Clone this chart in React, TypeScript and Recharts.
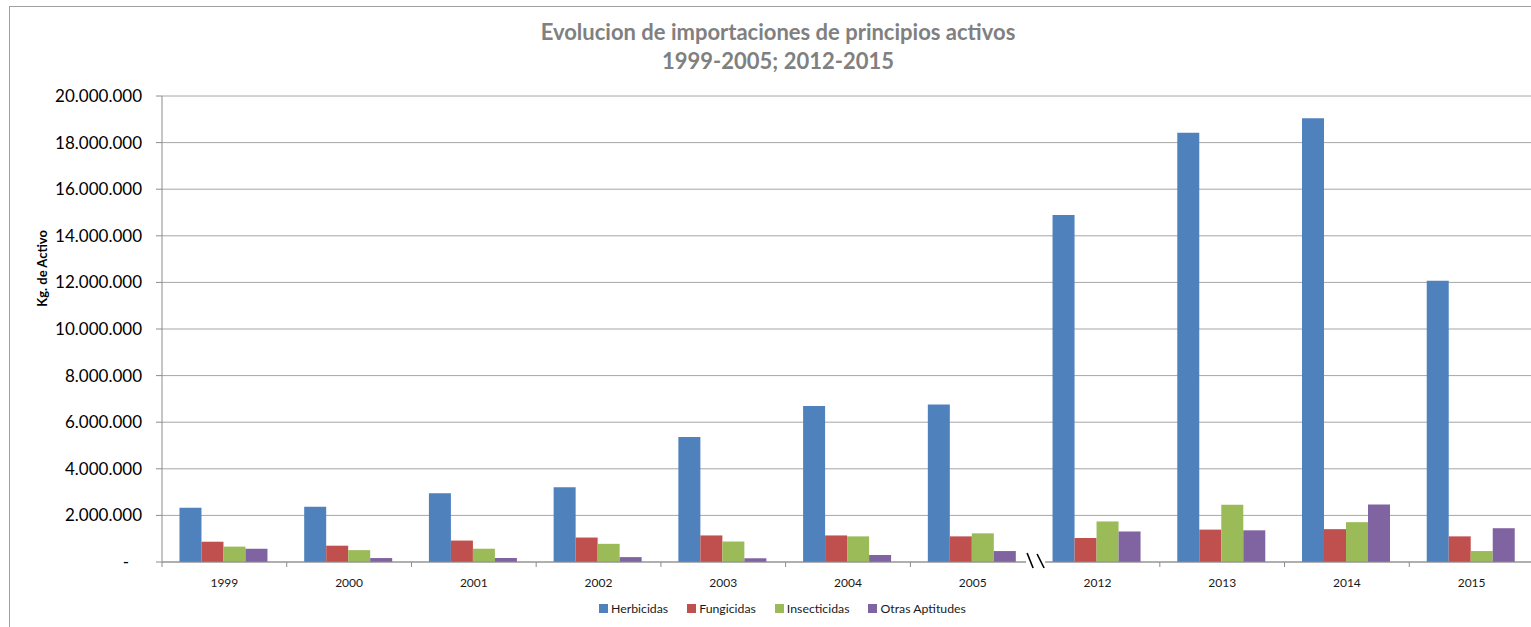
import React from 'react';
import { BarChart, Bar, XAxis, YAxis, CartesianGrid, Legend } from 'recharts';

const years = ['1999', '2000', '2001', '2002', '2003', '2004', '2005', '2012', '2013', '2014', '2015'];
const herbicidas = [2330000, 2370000, 2950000, 3210000, 5370000, 6700000, 6760000, 14890000, 18420000, 19040000, 12070000];
const fungicidas = [870000, 700000, 920000, 1050000, 1140000, 1140000, 1100000, 1030000, 1390000, 1410000, 1100000];
const insecticidas = [660000, 510000, 570000, 780000, 880000, 1100000, 1230000, 1740000, 2460000, 1710000, 470000];
const otras = [570000, 170000, 170000, 210000, 160000, 300000, 470000, 1310000, 1360000, 2470000, 1450000];
const yTicks = [0, 2000000, 4000000, 6000000, 8000000, 10000000, 12000000, 14000000, 16000000, 18000000, 20000000];

const series = [
  { key: 'herbicidas', name: 'Herbicidas', color: '#4f81bd' },
  { key: 'fungicidas', name: 'Fungicidas', color: '#c0504d' },
  { key: 'insecticidas', name: 'Insecticidas', color: '#9bbb59' },
  { key: 'otras', name: 'Otras Aptitudes', color: '#8064a2' },
];

const data = years.map((y, i) => ({
  year: y,
  herbicidas: herbicidas[i],
  fungicidas: fungicidas[i],
  insecticidas: insecticidas[i],
  otras: otras[i],
}));

const FONT = 'Lato, "Liberation Sans", sans-serif';
const AXIS = '#8c8c8c';

const fmt = (v: number) => (v === 0 ? '-\u00a0\u00a0\u00a0' : String(v).replace(/\B(?=(\d{3})+(?!\d))/g, '.'));

// break after 2005
const BREAK_INDEX = 7;

const XTick = (props: any) => {
  const { x, y, payload, index } = props;
  const half = payload.offset || 0;
  const axisY = y - 16;
  const left = x - half;
  return (
    <g>
      {index === BREAK_INDEX ? (
        <g>
          <rect x={left - 9} y={axisY - 2} width={19} height={4} fill='#fff' />
          <line x1={left - 8} y1={axisY - 9} x2={left - 2} y2={axisY + 6} stroke='#000' strokeWidth={1.6} />
          <line x1={left + 2} y1={axisY - 8} x2={left + 9} y2={axisY + 6} stroke='#000' strokeWidth={1.6} />
        </g>
      ) : (
        <line x1={left} y1={axisY} x2={left} y2={axisY + 5} stroke={AXIS} />
      )}
      {index === years.length - 1 && <line x1={x + half} y1={axisY} x2={x + half} y2={axisY + 5} stroke={AXIS} />}
      <text x={x} y={y} dy='0.71em' textAnchor='middle' fontSize={12} fontFamily={FONT} fill='#1a1a1a'>
        {payload.value}
      </text>
    </g>
  );
};

const LegendContent = () => (
  <div style={{ display: 'flex', paddingLeft: 599, height: 20, alignItems: 'center', fontFamily: FONT, fontSize: 12.3, color: '#1a1a1a' }}>
    {series.map((s) => (
      <div key={s.key} style={{ display: 'flex', alignItems: 'center', marginRight: 19 }}>
        <span style={{ display: 'inline-block', width: 9, height: 9, background: s.color, marginRight: 3 }} />
        <span>{s.name}</span>
      </div>
    ))}
  </div>
);

const YLabel = (props: any) => {
  const { viewBox } = props;
  const cx = 42;
  const cy = viewBox.y + viewBox.height * 0.37;
  return (
    <text x={cx} y={cy} transform={`rotate(-90 ${cx} ${cy})`} textAnchor='middle' dominantBaseline='central' fontSize={13} fontWeight='bold' fontFamily={FONT} fill='#000'>
      Kg. de Activo
    </text>
  );
};

export default function App() {
  return (
    <div style={{ position: 'absolute', left: 0, top: 0, width: 1531, height: 627, overflow: 'hidden', background: '#fff' }}>
      <div style={{ position: 'absolute', left: 9, top: 6, width: 1600, height: 700, border: '1px solid #a0a0a0' }} />
      <div
        style={{
          position: 'absolute',
          left: 428,
          top: 17,
          width: 700,
          textAlign: 'center',
          fontFamily: FONT,
          fontWeight: 'bold',
          fontSize: 22,
          lineHeight: '29px',
          color: '#808080',
        }}
      >
        Evolucion de importaciones de principios activos
        <br />
        1999-2005; 2012-2015
      </div>
      <div style={{ position: 'absolute', left: 0, top: 0 }}>
        <BarChart width={1545} height={627} data={data} margin={{ top: 96, right: 11, left: 0, bottom: 9 }} barCategoryGap='14%' barGap={0}>
          <CartesianGrid vertical={false} stroke='#a6a6a6' />
          <XAxis dataKey='year' height={36} tickLine={false} tickSize={5} tickMargin={11} axisLine={{ stroke: AXIS }} tick={<XTick />} interval={0} />
          <YAxis
            width={162}
            domain={[0, 20000000]}
            ticks={yTicks}
            tickFormatter={fmt}
            tickSize={6}
            tickMargin={14}
            axisLine={{ stroke: AXIS }}
            tickLine={{ stroke: AXIS }}
            tick={{ fontSize: 17, fontFamily: FONT, fill: '#000' }}
            label={<YLabel />}
          />
          <Legend verticalAlign='bottom' content={<LegendContent />} />
          {series.map((s) => (
            <Bar key={s.key} dataKey={s.key} name={s.name} fill={s.color} isAnimationActive={false} />
          ))}
        </BarChart>
      </div>
    </div>
  );
}
